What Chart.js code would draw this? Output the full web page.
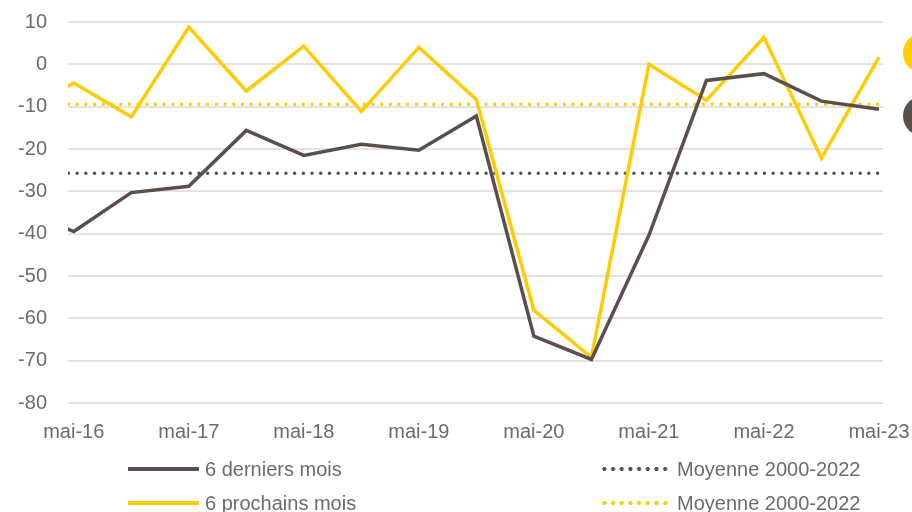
<!DOCTYPE html>
<html>
<head>
<meta charset="utf-8">
<script src="https://cdn.jsdelivr.net/npm/chart.js@4.4.1/dist/chart.umd.min.js"></script>
<style>
  body { margin: 0; background: #fff; }
  #wrap { position: relative; width: 912px; height: 512px; overflow: hidden; }
  .leg { position: absolute; display: flex; align-items: center; color: #6e6a6a;
         font-family: 'Liberation Sans', Arial, sans-serif;
         font-size: 20px; white-space: nowrap; }
  .sw { width: 71px; height: 8px; margin-right: 6px; }
</style>
</head>
<body>
<div id="wrap">
  <canvas id="chart" width="912" height="512"></canvas>
  <div id="legend"></div>
</div>
<script>
// half-year points, nov-15 is only partly visible at the left edge
const periods = ['nov-15', 'mai-16', 'nov-16', 'mai-17', 'nov-17', 'mai-18', 'nov-18', 'mai-19',
                 'nov-19', 'mai-20', 'nov-20', 'mai-21', 'nov-21', 'mai-22', 'nov-22', 'mai-23'];
const derniers = [-34, -39.5, -30.3, -28.8, -15.6, -21.5, -18.9, -20.3,
                  -12.2, -64.2, -69.7, -40.4, -3.8, -2.2, -8.7, -10.6];
const prochains = [-12, -4.4, -12.4, 8.8, -6.3, 4.3, -11.1, 4.0,
                   -8.3, -58.1, -69.2, 0, -8.5, 6.4, -22.2, 1.7];
const moyDerniers = -25.7;
const moyProchains = -9.4;
const tickLabels = ['mai-16', 'mai-17', 'mai-18', 'mai-19', 'mai-20', 'mai-21', 'mai-22', 'mai-23'];

const BROWN = '#5b4f4c';
const YELLOW = '#ffcc00';
const GREY = '#6e6a6a';
const FONT = "'Liberation Sans', Arial, sans-serif";

// x position: mai-16 = 0, one unit per half year
const pts = arr => arr.map((v, i) => ({ x: i - 1, y: v }));
const flat = v => periods.map((p, i) => ({ x: i - 1, y: v }));

const series = [
  { label: '6 derniers mois', data: pts(derniers), borderColor: BROWN, dash: [] },
  { label: '6 prochains mois', data: pts(prochains), borderColor: YELLOW, dash: [] },
  { label: 'Moyenne 2000-2022', data: flat(moyDerniers), borderColor: BROWN, dash: [0, 8.7] },
  { label: 'Moyenne 2000-2022', data: flat(moyProchains), borderColor: YELLOW, dash: [0, 8.7] }
];

const sideDots = {
  id: 'sideDots',
  afterDraw(chart) {
    const ctx = chart.ctx;
    ctx.save();
    [[YELLOW, 53], [BROWN, 116]].forEach(([c, y]) => {
      ctx.beginPath();
      ctx.arc(923, y, 20, 0, Math.PI * 2);
      ctx.fillStyle = c;
      ctx.fill();
    });
    ctx.restore();
  }
};

new Chart(document.getElementById('chart'), {
  type: 'line',
  data: {
    datasets: series.map(s => ({
      label: s.label,
      data: s.data,
      borderColor: s.borderColor,
      borderWidth: 3.5,
      borderDash: s.dash,
      borderCapStyle: s.dash.length ? 'round' : 'butt',
      borderJoinStyle: 'miter',
      pointRadius: 0,
      tension: 0,
      fill: false
    }))
  },
  options: {
    responsive: false,
    animation: false,
    layout: { padding: { top: 22, right: 29, bottom: 60, left: 0 } },
    plugins: { legend: { display: false }, tooltip: { enabled: false } },
    scales: {
      x: {
        type: 'linear',
        min: -0.1,
        max: 14.07,
        afterFit: s => { s.height = 49; },
        afterBuildTicks: s => { s.ticks = tickLabels.map((t, i) => ({ value: i * 2 })); },
        ticks: {
          callback: v => tickLabels[v / 2],
          color: GREY,
          padding: 0,
          maxRotation: 0,
          autoSkip: false,
          font: { family: FONT, size: 20 }
        },
        grid: { display: false, tickLength: 17 },
        border: { display: false }
      },
      y: {
        min: -80,
        max: 10,
        afterFit: s => { s.width = 68; },
        ticks: {
          stepSize: 10,
          color: GREY,
          padding: 0,
          font: { family: FONT, size: 20 }
        },
        grid: { color: '#e6e1e1', lineWidth: 2, tickLength: 21, tickColor: 'rgba(0,0,0,0)' },
        border: { display: false }
      }
    }
  },
  plugins: [sideDots]
});

// legend in two columns, built from the series list
const legendPos = [[128, 469], [128, 503], [600, 469], [600, 503]];
const legend = document.getElementById('legend');
series.forEach((s, i) => {
  const item = document.createElement('div');
  item.className = 'leg';
  item.style.left = legendPos[i][0] + 'px';
  item.style.top = (legendPos[i][1] - 14) + 'px';
  item.style.height = '28px';
  const sw = document.createElement('span');
  sw.className = 'sw';
  if (s.dash.length) {
    sw.style.background = `radial-gradient(circle, ${s.borderColor} 1.8px, transparent 2.3px) 0 0 / 8.7px 8px repeat-x`;
  } else {
    sw.style.background = `linear-gradient(${s.borderColor}, ${s.borderColor}) 0 50% / 100% 4px no-repeat`;
  }
  item.appendChild(sw);
  item.appendChild(document.createTextNode(s.label));
  legend.appendChild(item);
});
</script>
</body>
</html>
